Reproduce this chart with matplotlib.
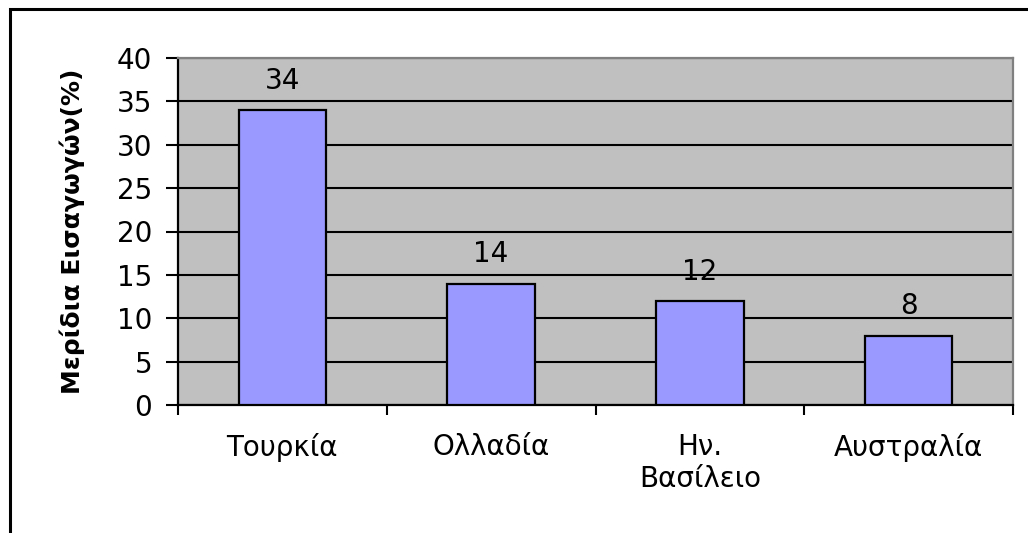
import matplotlib
matplotlib.use("Agg")
import matplotlib.pyplot as plt
from matplotlib.patches import Rectangle

plt.rcParams['font.family'] = ['DejaVu Sans']

countries = ["Τουρκία", "Ολλαδία", "Ην.\nΒασίλειο", "Αυστραλία"]
shares = [34, 14, 12, 8]
y_ticks = [0, 5, 10, 15, 20, 25, 30, 35, 40]
y_label = "Μερίδια Εισαγωγών(%)"

fig = plt.figure(figsize=(10.28, 5.33), dpi=100)
ax = fig.add_axes([178 / 1028, 1 - 405 / 533, (1013 - 178) / 1028, (405 - 58) / 533])

ax.set_facecolor("#C0C0C0")
xs = list(range(len(countries)))
bars = ax.bar(xs, shares, width=0.42, color="#9999FF", edgecolor="black", linewidth=1.6, zorder=3)

for b, v in zip(bars, shares):
    ax.annotate(str(v), (b.get_x() + b.get_width() / 2, b.get_height()),
                xytext=(0, 11), textcoords="offset points",
                ha="center", va="bottom", fontsize=20, zorder=4)

ax.set_xlim(-0.5, len(countries) - 0.5)
ax.set_ylim(0, 40)
ax.set_yticks(y_ticks)
ax.yaxis.grid(True, color="black", linewidth=1.5, zorder=1)
ax.set_axisbelow(True)

# category labels in the middle, ticks at the boundaries
ax.set_xticks([x - 0.5 for x in range(len(countries) + 1)])
ax.set_xticklabels([])
ax.set_xticks(xs, minor=True)
ax.set_xticklabels(countries, minor=True, fontsize=20)
ax.tick_params(axis="x", which="minor", length=0, pad=20)
ax.tick_params(axis="x", which="major", direction="out", length=7, width=1.5)
ax.tick_params(axis="y", direction="out", length=8.5, width=1.5, labelsize=20, pad=10)

ax.set_ylabel(y_label, fontsize=18, fontweight="bold")
ax.yaxis.set_label_coords(-0.111, 0.5)

for s in ["left", "bottom"]:
    ax.spines[s].set_color("black")
    ax.spines[s].set_linewidth(1.6)
for s in ["top", "right"]:
    ax.spines[s].set_color("#808080")
    ax.spines[s].set_linewidth(1.6)

# outer chart frame
fig.patches.append(Rectangle((10 / 1028, -0.1), 1.2, 1 - 9 / 533 + 0.1,
                             transform=fig.transFigure, fill=False,
                             edgecolor="black", linewidth=2.2))

fig.savefig("out.png", dpi=100)
